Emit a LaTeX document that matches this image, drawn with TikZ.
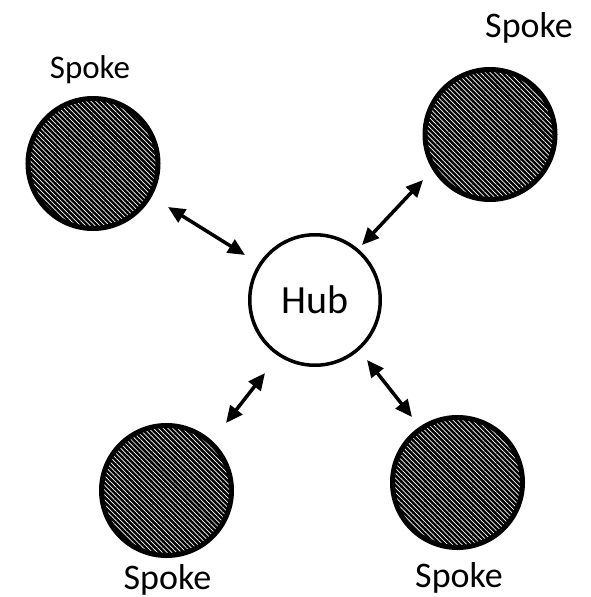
\documentclass[tikz,border=0pt]{standalone}
\usepackage{fontspec}
\setmainfont{Carlito}
\usetikzlibrary{patterns.meta,arrows.meta}
\begin{document}
\begin{tikzpicture}[x=1pt,y=-1pt,
  spoke/.style={circle, inner sep=0pt, minimum size=130pt, fill=black,
    postaction={pattern={Lines[angle=-45,distance=3.4pt,line width=0.7pt]}, pattern color=white},
    postaction={draw=black, line width=5pt}},
  hub/.style={circle, draw=black, line width=3.5pt, minimum size=130.5pt, inner sep=0pt,
    font=\fontsize{40}{48}\selectfont},
  lbl/.style={anchor=base, inner sep=0pt, font=\fontsize{36}{43}\selectfont},
  link/.style={line width=3.5pt, {Triangle[length=17pt,width=15pt]}-{Triangle[length=17pt,width=15pt]}}]
\useasboundingbox (0,0) rectangle (590,597);

\node[hub] (hub) at (315,300) {Hub};
\node[spoke] (tl) at (93,163.5) {};
\node[spoke] (tr) at (490,134.5) {};
\node[spoke] (bl) at (166.5,490.5) {};
\node[spoke] (br) at (457.5,482.5) {};

\node[lbl, font=\fontsize{33}{40}\selectfont] (ltl) at (90,78) {Spoke};
\node[lbl] (ltr) at (529,37) {Spoke};
\node[lbl] (lbl1) at (167.5,589) {Spoke};
\node[lbl] (lbr) at (459,587) {Spoke};

\coordinate (a1s) at (168,207);
\coordinate (a1e) at (245,255);
\coordinate (a2s) at (362,245);
\coordinate (a2e) at (423,180);
\coordinate (a3s) at (226,423);
\coordinate (a3e) at (265,373);
\coordinate (a4s) at (367,360);
\coordinate (a4e) at (412,417);

\draw[link] (a1s) -- (a1e);
\draw[link] (a2s) -- (a2e);
\draw[link] (a3s) -- (a3e);
\draw[link] (a4s) -- (a4e);
\end{tikzpicture}
\end{document}
